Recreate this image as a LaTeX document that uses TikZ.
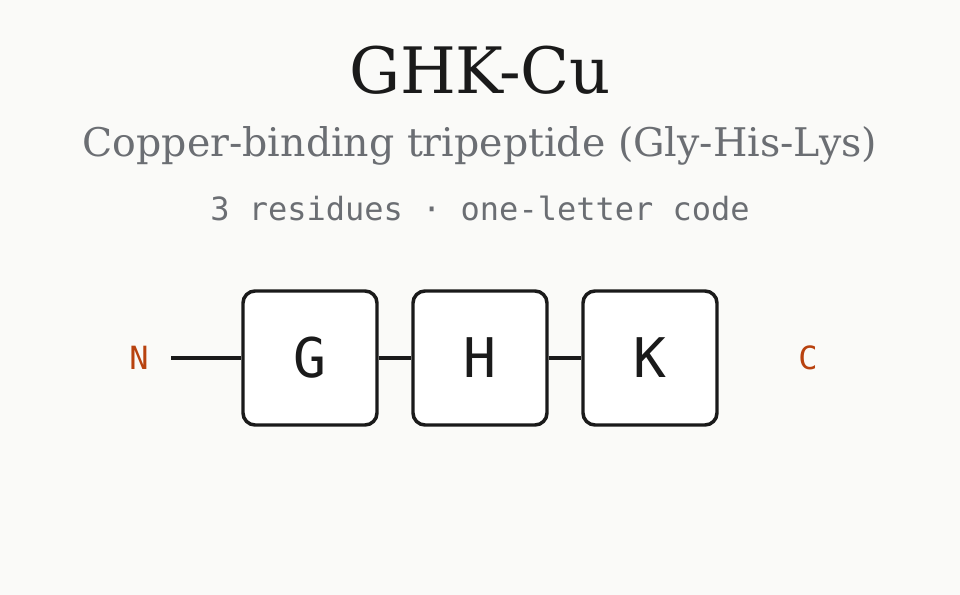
\documentclass[tikz,border=0pt]{standalone}
\usepackage{fontspec}
\setmainfont{DejaVu Serif}
\setmonofont{DejaVu Sans Mono}
\definecolor{bg}{HTML}{FAFAF8}
\definecolor{ink}{HTML}{1A1A1A}
\definecolor{sub}{HTML}{6B6E73}
\definecolor{term}{HTML}{B8420F}
\begin{document}
\begin{tikzpicture}[x=0.75pt,y=-0.75pt,
  res/.style={draw=ink,line width=2.6pt,fill=white,rounded corners=9pt,minimum width=100.5pt,minimum height=100.5pt,inner sep=0pt,font=\ttfamily\fontsize{41}{41}\selectfont,text=ink},
  termlab/.style={font=\ttfamily\fontsize{24}{24}\selectfont,text=term},
  bond/.style={draw=ink,line width=2.6pt}]
\fill[bg] (0,0) rectangle (960,595);
\useasboundingbox (0,0) rectangle (960,595);
\node[font=\fontsize{48}{48}\selectfont,text=ink] (title) at (480,70) {GHK-Cu};
\node[font=\fontsize{29.6}{29.6}\selectfont,text=sub] (subtitle) at (480,146) {Copper-binding tripeptide (Gly-His-Lys)};
\node[font=\ttfamily\fontsize{24}{24}\selectfont,text=sub] (info) at (480,208) {3 residues · one-letter code};
\node[res] (g) at (310,358) {G};
\node[res] (h) at (480,358) {H};
\node[res] (k) at (650,358) {K};
\node[termlab] (n) at (139,358) {N};
\node[termlab] (c) at (808,358) {C};
\coordinate (nend) at (171,358);
\draw[bond] (nend) -- (g.west);
\draw[bond] (g.east) -- (h.west);
\draw[bond] (h.east) -- (k.west);
\end{tikzpicture}
\end{document}
